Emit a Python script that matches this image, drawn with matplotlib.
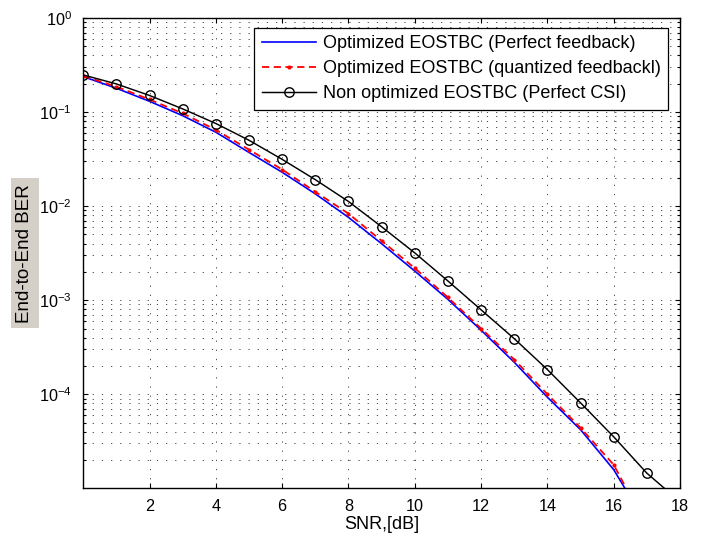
"""
End-to-end BER of EOSTBC schemes versus SNR, semilog plot.
"""

import matplotlib
matplotlib.use("Agg")
import matplotlib.pyplot as plt

#SNR points in dB
snr_db = [0, 1, 2, 3, 4, 5, 6, 7, 8, 9, 10, 11, 12, 13, 14, 15, 16, 17, 18]

#Optimized EOSTBC, perfect feedback
ber_opt_perfect = [0.238, 0.179, 0.130, 0.0914, 0.0610, 0.0372, 0.0229,
                   0.0135, 0.00759, 0.00398, 0.00204, 0.00102, 4.8e-4,
                   2.19e-4, 9.3e-5, 4.2e-5, 1.58e-5, 4.1e-6]

#Optimized EOSTBC, quantized feedback
ber_opt_quant = [0.242, 0.186, 0.136, 0.0968, 0.0646, 0.0398, 0.0245,
                 0.0142, 0.00832, 0.00427, 0.00219, 0.00107, 5.0e-4,
                 2.34e-4, 1.0e-4, 4.4e-5, 1.78e-5, 3.9e-6]

#Non optimized EOSTBC, perfect CSI
ber_non_opt = [0.248, 0.199, 0.150, 0.108, 0.0755, 0.0501, 0.0314,
               0.0191, 0.0112, 0.00603, 0.00318, 0.00160, 7.9e-4,
               3.9e-4, 1.83e-4, 8.1e-5, 3.53e-5, 1.45e-5, 7.2e-6]

legend_labels = ["Optimized EOSTBC (Perfect feedback)",
                 "Optimized EOSTBC (quantized feedbackl)",
                 "Non optimized EOSTBC (Perfect CSI)"]

x_ticks = [2, 4, 6, 8, 10, 12, 14, 16, 18]
y_ticks = [1e-4, 1e-3, 1e-2, 1e-1, 1e0]


def visualize_ber():
    """Draw the three BER curves"""

    plt.rcParams["font.family"] = ["Liberation Sans", "DejaVu Sans"]

    fig = plt.figure(figsize=(7.04, 5.40), dpi=100)
    ax = fig.add_axes([0.1183, 0.0957, 0.8476, 0.871])

    n1 = len(ber_opt_perfect)
    n2 = len(ber_opt_quant)

    #Curves
    ax.semilogy(snr_db[:n1], ber_opt_perfect, color="#0000ff", lw=1.2,
                label=legend_labels[0])
    ax.semilogy(snr_db[:n2], ber_opt_quant, color="#ff0000", lw=1.3,
                dashes=(4, 2.5), marker=".", markersize=4,
                label=legend_labels[1])
    ax.semilogy(snr_db, ber_non_opt, color="black", lw=1.05, marker="o",
                markersize=6.8, markerfacecolor="none", markeredgewidth=1.0,
                label=legend_labels[2])

    ax.set_xlim(0, 18)
    ax.set_ylim(1e-5, 1)
    ax.set_xticks(x_ticks)
    ax.set_yticks(y_ticks)

    #Dotted major and minor grid, MATLAB style
    grid_style = dict(color="0.2", lw=0.6, linestyle=(0, (1.5, 9.5)))
    ax.grid(True, which="major", axis="both", **grid_style)
    ax.grid(True, which="minor", axis="y", **grid_style)

    ax.tick_params(which="both", direction="in", top=True, right=True,
                   labelsize=11.7, width=0.8)
    ax.tick_params(which="major", length=3.6, pad=8)
    ax.tick_params(which="minor", length=2.2)
    ax.tick_params(axis="x", which="minor", bottom=False, top=False)

    for spine in ax.spines.values():
        spine.set_linewidth(1.0)

    ax.set_xlabel("SNR,[dB]", fontsize=13, labelpad=1)
    ax.set_ylabel("End-to-End BER", fontsize=13.5, ha="center", va="center",
                  bbox=dict(facecolor="#d4d0c8", edgecolor="none", pad=4))
    ax.yaxis.set_label_coords(-0.0978, 0.5)

    leg = ax.legend(loc="upper right", bbox_to_anchor=(0.98, 0.979),
                    borderaxespad=0, fontsize=13.0, fancybox=False,
                    framealpha=1, edgecolor="black", labelspacing=0.45,
                    handlelength=3.0, handletextpad=0.4, borderpad=0.4)
    leg.get_frame().set_linewidth(0.9)

    fig.savefig("out.png", dpi=100)
    plt.close(fig)


def main():
    visualize_ber()


if __name__ == "__main__":
    main()
